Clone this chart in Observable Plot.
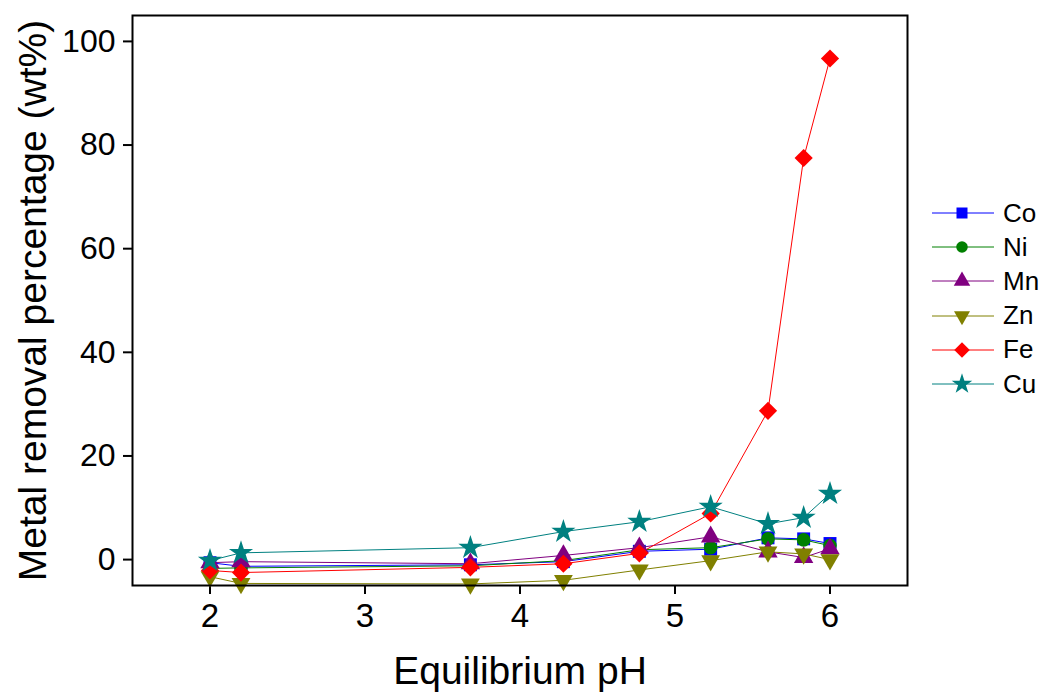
<!DOCTYPE html>
<html>
<head>
<meta charset="utf-8">
<script src="https://cdn.jsdelivr.net/npm/d3@7"></script>
<script src="https://cdn.jsdelivr.net/npm/@observablehq/plot@0.6"></script>
<style>
body { margin: 0; background: #fff; font-family: "Liberation Sans", Arial, sans-serif; }
#wrap { position: relative; width: 1045px; height: 695px; }
#legend { position: absolute; left: 930px; top: 196px; }
.row { display: flex; align-items: center; height: 34.2px; font-size: 26px; color: #000; }
.row svg { display: block; }
.row span { margin-left: 7px; }
</style>
</head>
<body>
<div id="wrap"></div>
<script>
const pH = [2.0, 2.2, 3.68, 4.28, 4.77, 5.23, 5.6, 5.83, 6.0];
const Co = [-0.6, -1.3, -1.0, -0.4, 1.6, 2.0, 4.2, 4.0, 3.1];
const Ni = [-1.7, -1.6, -1.2, -0.2, 1.9, 2.3, 4.0, 3.8, 2.7];
const Mn = [-0.6, -0.4, -0.8, 0.8, 2.3, 4.4, 1.5, 0.4, 2.1];
const Zn = [-3.3, -4.6, -4.7, -4.0, -2.0, -0.2, 1.5, 1.1, 0.0];
const Fe = [-2.1, -2.5, -1.5, -0.8, 1.2, 8.9, 28.7, 77.5, 96.7];
const Cu = [-0.2, 1.3, 2.3, 5.4, 7.3, 10.2, 6.9, 8.1, 12.7];
const metals = ["Co", "Ni", "Mn", "Zn", "Fe", "Cu"];
const values = {Co, Ni, Mn, Zn, Fe, Cu};
const colors = ["#0000ff", "#008000", "#800080", "#808000", "#ff0000", "#008080"];
const xTicks = [2, 3, 4, 5, 6];
const yTicks = [0, 20, 40, 60, 80, 100];

const triangleDown = {
  draw(context, size) {
    const y = -Math.sqrt(size / (Math.sqrt(3) * 3));
    const s3 = Math.sqrt(3);
    context.moveTo(0, -y * 2);
    context.lineTo(-s3 * y, y);
    context.lineTo(s3 * y, y);
    context.closePath();
  }
};
const symbols = [d3.symbolSquare, d3.symbolCircle, d3.symbolTriangle, triangleDown, d3.symbolDiamond2, d3.symbolStar];
const radii = [7.3, 6.8, 7.2, 7.0, 8.2, 7.6];

const data = metals.flatMap((m, i) => pH.map((x, j) => ({metal: m, idx: i, x, y: values[m][j]})));

const marks = [];
metals.forEach((m, i) => {
  const d = data.filter(r => r.metal === m);
  marks.push(Plot.line(d, {x: "x", y: "y", stroke: colors[i], strokeWidth: 1}));
});
metals.forEach((m, i) => {
  const d = data.filter(r => r.metal === m);
  marks.push(Plot.dot(d, {x: "x", y: "y", symbol: () => symbols[i], r: radii[i], fill: colors[i], stroke: "none"}));
});

const chart = Plot.plot({
  width: 1045,
  height: 695,
  marginLeft: 132,
  marginRight: 138,
  marginTop: 15,
  marginBottom: 110,
  style: {fontFamily: "Liberation Sans, Arial, sans-serif", background: "#fff", color: "#000"},
  symbol: {type: "identity"},
  x: {domain: [1.5, 6.5]},
  y: {domain: [-5, 105]},
  marks: [
    Plot.axisX({ticks: xTicks, tickFormat: d3.format("d"), tickSize: 9, tickPadding: 9, fontSize: 33, label: null, strokeWidth: 2}),
    Plot.axisY({ticks: yTicks, tickFormat: d3.format("d"), tickSize: 9, tickPadding: 8, fontSize: 32, label: null, strokeWidth: 2}),
    ...marks,
    Plot.frame({stroke: "#000", strokeWidth: 2}),
    Plot.text(["Equilibrium pH"], {frameAnchor: "bottom", textAnchor: "middle", dy: 98, fontSize: 39, fill: "#000"}),
    Plot.text(["Metal removal percentage (wt%)"], {frameAnchor: "left", textAnchor: "middle", rotate: -90, dx: -99, fontSize: 39, fill: "#000"})
  ]
});
document.getElementById("wrap").appendChild(chart);

// Legend
const legend = d3.select("#wrap").append("div").attr("id", "legend");
metals.forEach((m, i) => {
  const row = legend.append("div").attr("class", "row");
  const svg = row.append("svg").attr("width", 66).attr("height", 30);
  svg.append("line").attr("x1", 2).attr("x2", 64).attr("y1", 15).attr("y2", 15)
    .attr("stroke", colors[i]).attr("stroke-width", 1);
  const sz = Math.PI * (radii[i] * 0.85) ** 2;
  svg.append("path").attr("d", d3.symbol(symbols[i], sz)()).attr("transform", "translate(32,15)")
    .attr("fill", colors[i]);
  row.append("span").text(m);
});
</script>
</body>
</html>
